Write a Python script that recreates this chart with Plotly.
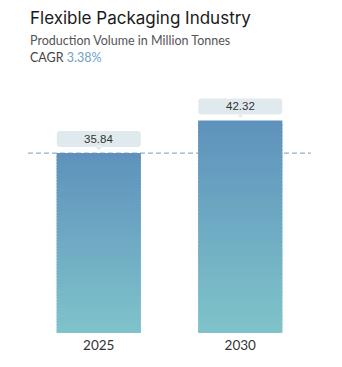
import plotly.graph_objects as go

categories = ["2025", "2030"]
values = [35.84, 42.32]
value_labels = ["35.84", "42.32"]
title = "Flexible Packaging Industry"
subtitle = "Production Volume in Million Tonnes"
cagr_label = "CAGR"
cagr_value = "3.38%"

W, H = 342, 367
ml, mr, mt, mb = 28, 31, 90, 34
plot_h = H - mt - mb
px_per_unit = 5.02
ymax = plot_h / px_per_unit

xpos = list(range(len(categories)))
bar_w = 0.595

top_rgb = (94, 146, 188)
bot_rgb = (128, 196, 202)
N = 60

fig = go.Figure()
for i in range(N):
    t = (i + 0.5) / N
    c = tuple(round(bot_rgb[k] + (top_rgb[k] - bot_rgb[k]) * t) for k in range(3))
    col = "rgb(%d,%d,%d)" % c
    bases = [max(0, i - 0.6) * v / N for v in values]
    tops = [(i + 1) * v / N for v in values]
    fig.add_trace(go.Bar(
        x=xpos, y=[tp - b for tp, b in zip(tops, bases)], base=bases, width=bar_w,
        marker=dict(color=col, line=dict(width=0)),
        hoverinfo="skip", showlegend=False,
    ))

# dashed reference line at base-year value
fig.add_shape(type="line", xref="paper", x0=0, x1=1, yref="y",
              y0=values[0], y1=values[0],
              line=dict(color="#8fb1cc", width=1.2, dash="5px,3px"), layer="below")

# value label boxes with pointer
r = 3
hw = 42
yb, yt = 6, 22
box_path = (f"M {-hw + r},{yb} L {hw - r},{yb} Q {hw},{yb} {hw},{yb + r} "
            f"L {hw},{yt - r} Q {hw},{yt} {hw - r},{yt} L {-hw + r},{yt} "
            f"Q {-hw},{yt} {-hw},{yt - r} L {-hw},{yb + r} Q {-hw},{yb} {-hw + r},{yb} Z "
            f"M -4,{yb + 0.5} L 0,{yb - 3} L 4,{yb + 0.5} Z")
for xp, v, lab in zip(xpos, values, value_labels):
    fig.add_shape(type="path", xref="x", yref="y", xsizemode="pixel", ysizemode="pixel",
                  xanchor=xp, yanchor=v, path=box_path,
                  fillcolor="#e0eaee", line=dict(width=0))
    fig.add_annotation(x=xp, y=v, text=lab, showarrow=False, yanchor="middle",
                       yshift=14.5, font=dict(family="Liberation Sans", size=11.5, color="#333333"))

def py(pix):
    return (H - mb - pix) / plot_h

def pxx(pix):
    return (pix - ml) / (W - ml - mr)

fig.add_annotation(xref="paper", yref="paper", x=pxx(28), y=py(18), xanchor="left",
                   yanchor="middle", text=title, showarrow=False,
                   font=dict(family="Inter", size=17, color="#1a1a1a"))
fig.add_annotation(xref="paper", yref="paper", x=pxx(28), y=py(40), xanchor="left",
                   yanchor="middle", text=subtitle, showarrow=False,
                   font=dict(family="Lato", size=12.5, color="#555555"))
fig.add_annotation(xref="paper", yref="paper", x=pxx(28), y=py(58), xanchor="left",
                   yanchor="middle",
                   text=f"{cagr_label} <span style='color:#6f9fc6'>{cagr_value}</span>",
                   showarrow=False, font=dict(family="Lato", size=12.5, color="#444444"))

fig.update_layout(
    width=W, height=H, margin=dict(l=ml, r=mr, t=mt, b=mb),
    barmode="overlay",
    paper_bgcolor="white", plot_bgcolor="white",
    xaxis=dict(range=[-0.5, len(categories) - 0.5], tickmode="array", tickvals=xpos,
               ticktext=categories, showline=False, showgrid=False, zeroline=False,
               ticks="", ticklabelstandoff=2,
               tickfont=dict(family="Lato", size=13.5, color="#333333")),
    yaxis=dict(range=[0, ymax], visible=False),
)
fig.write_html("out.html")
